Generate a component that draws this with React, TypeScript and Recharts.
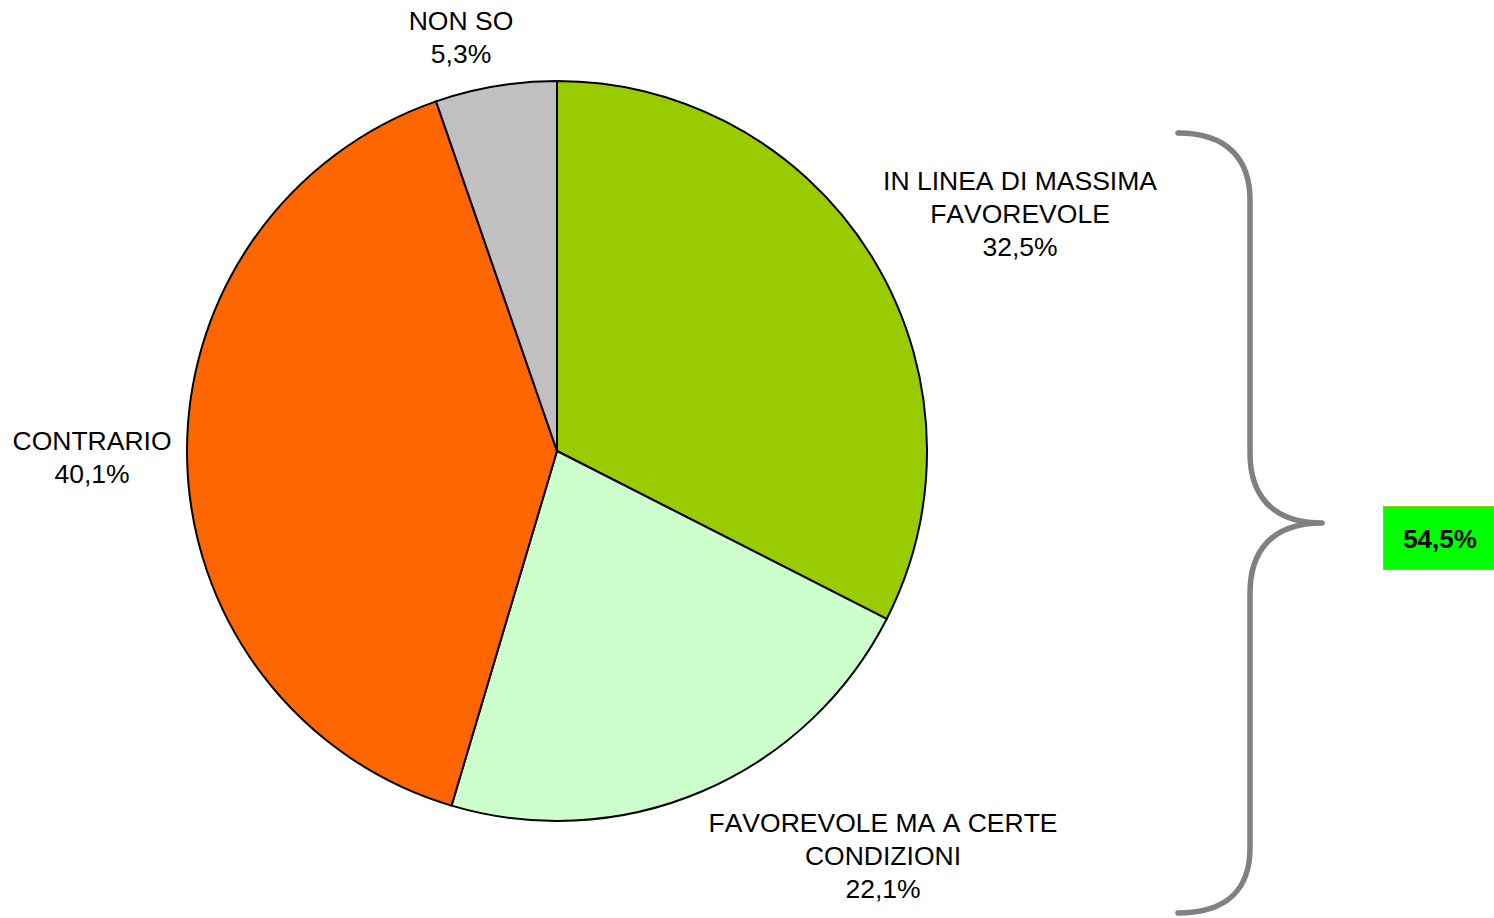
import { PieChart, Pie, Cell, Customized } from 'recharts';

const categories = ['IN LINEA DI MASSIMA FAVOREVOLE', 'FAVOREVOLE MA A CERTE CONDIZIONI', 'CONTRARIO', 'NON SO'];
const values = [32.5, 22.1, 40.1, 5.3];
const labelLines = [
  ['IN LINEA DI MASSIMA', 'FAVOREVOLE'],
  ['FAVOREVOLE MA A CERTE', 'CONDIZIONI'],
  ['CONTRARIO'],
  ['NON SO'],
];
const totalFavorable = '54,5%';

const COLORS = ['#99CC00', '#CCFFCC', '#FF6600', '#C0C0C0'];

// label block centre, as offset from the pie centre
const LABEL_OFFSETS = [
  { dx: 463, dy: -237 },
  { dx: 326, dy: 405 },
  { dx: -465, dy: 6 },
  { dx: -96, dy: -414 },
];

const FONT = '"Liberation Sans", Arial, sans-serif';
const LINE_H = 33;
const TEXT_STYLE = { fontKerning: 'none' as const };

const data = categories.map((name, i) => ({ name, value: values[i] }));

const fmt = (v: number) => v.toFixed(1).replace('.', ',') + '%';

const renderLabel = (props: any) => {
  const { cx, cy, index, value } = props;
  const off = LABEL_OFFSETS[index];
  const lines = [...labelLines[index], fmt(value)];
  const x = cx + off.dx;
  const top = cy + off.dy - ((lines.length - 1) * LINE_H) / 2;
  return (
    <text
      key={`lbl-${index}`}
      x={x}
      y={top}
      textAnchor="middle"
      dominantBaseline="central"
      fontFamily={FONT}
      fontSize={26.5}
      fill="#000"
      style={TEXT_STYLE}
    >
      {lines.map((l, j) => (
        <tspan key={j} x={x} y={top + j * LINE_H}>
          {l}
        </tspan>
      ))}
    </text>
  );
};

const Brace = () => (
  <g>
    <path
      d="M 1178 133 C 1228 133 1250 160 1250 200 L 1250 453 C 1250 495 1272 523 1322 523 C 1272 523 1250 551 1250 593 L 1250 848 C 1250 888 1228 913 1178 913"
      fill="none"
      stroke="#808080"
      strokeWidth={5.5}
      strokeLinecap="round"
      strokeLinejoin="round"
    />
    <rect x={1383.5} y={506.5} width={115} height={63} fill="#00FF00" stroke="#99CC00" strokeWidth={1} />
    <text
      x={1440}
      y={539}
      textAnchor="middle"
      dominantBaseline="central"
      fontFamily={FONT}
      fontSize={26}
      fontWeight="bold"
      fill="#000"
      style={TEXT_STYLE}
    >
      {totalFavorable}
    </text>
  </g>
);

export default function App() {
  return (
    <div style={{ position: 'absolute', left: 0, top: 0, width: 1494, height: 918, background: '#fff' }}>
      <PieChart width={1494} height={918} margin={{ top: 0, right: 0, bottom: 0, left: 0 }}>
        <Pie
          data={data}
          dataKey="value"
          nameKey="name"
          cx={557}
          cy={451}
          outerRadius={370}
          startAngle={90}
          endAngle={-270}
          stroke="#000"
          strokeWidth={2}
          label={renderLabel}
          labelLine={false}
          isAnimationActive={false}
        >
          {data.map((_, i) => (
            <Cell key={`cell-${i}`} fill={COLORS[i]} />
          ))}
        </Pie>
        <Customized component={Brace} />
      </PieChart>
    </div>
  );
}
